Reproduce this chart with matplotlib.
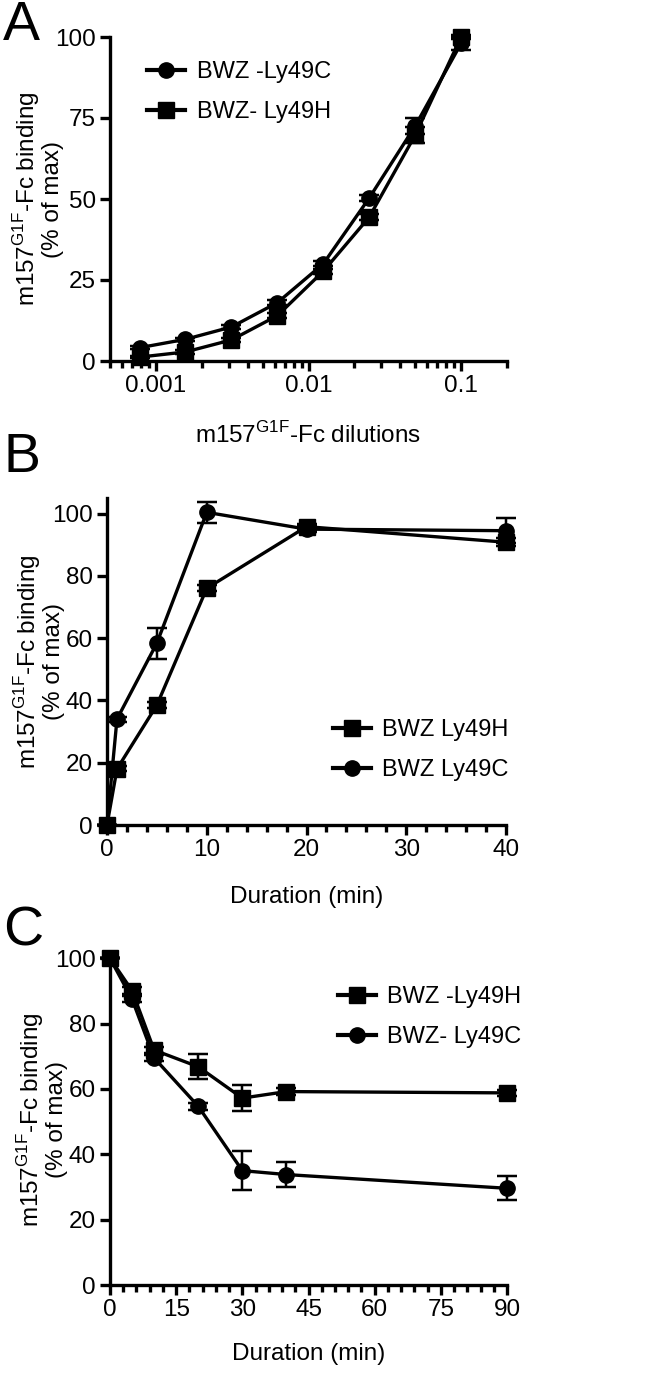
import numpy as np
import matplotlib.pyplot as plt
from matplotlib.lines import Line2D
from matplotlib.ticker import NullFormatter, MultipleLocator, LogLocator

plt.rcParams['font.family'] = ['Liberation Sans', 'DejaVu Sans']

# --- Panel A: dilution series ---
dil = [0.00078125, 0.0015625, 0.003125, 0.00625, 0.0125, 0.025, 0.05, 0.1]
a_ly49c = [4.1, 6.7, 10.5, 18.0, 30.0, 50.3, 72.5, 98.0]
a_ly49c_err = [0.5, 0.5, 0.6, 0.7, 0.8, 1.0, 2.5, 2.0]
a_ly49h = [1.2, 2.8, 6.5, 14.0, 27.7, 44.4, 69.7, 100.0]
a_ly49h_err = [0.4, 0.5, 0.6, 0.7, 0.8, 1.0, 2.5, 0.5]

# --- Panel B: association time course ---
b_time = [0, 1, 5, 10, 20, 40]
b_ly49h = [0.0, 18.0, 38.5, 76.0, 95.8, 90.8]
b_ly49h_err = [0.0, 0.8, 1.0, 1.0, 1.0, 1.2]
b_ly49c = [0.0, 34.0, 58.4, 100.4, 95.0, 94.5]
b_ly49c_err = [0.0, 0.8, 5.0, 3.4, 1.0, 4.0]

# --- Panel C: dissociation time course ---
c_time = [0, 5, 10, 20, 30, 40, 90]
c_ly49h = [100.0, 90.1, 71.9, 66.8, 57.2, 59.2, 58.8]
c_ly49h_err = [0.0, 1.0, 1.0, 3.8, 4.0, 1.0, 1.0]
c_ly49c = [100.0, 87.5, 69.5, 54.7, 35.0, 33.8, 29.6]
c_ly49c_err = [0.0, 1.0, 1.0, 1.0, 5.9, 3.9, 3.7]

W, H = 645, 1377
fig = plt.figure(figsize=(W / 100, H / 100), dpi=100)


def px_axes(left, top, right, bottom):
    return fig.add_axes([left / W, 1 - bottom / H, (right - left) / W, (bottom - top) / H])


LW = 2.4
MS = 11
TICK_FS = 17.5
LAB_FS = 17.5
LEG_FS = 17
ylab = 'm157$^{\\mathregular{G1F}}$-Fc binding\n(% of max)'


def style(ax, label_x):
    for s in ['top', 'right']:
        ax.spines[s].set_visible(False)
    for s in ['left', 'bottom']:
        ax.spines[s].set_linewidth(LW)
    ax.tick_params(which='major', length=7, width=LW, labelsize=TICK_FS, direction='out', pad=3)
    ax.tick_params(which='minor', length=5, width=LW, direction='out')
    ax.set_ylabel(ylab, fontsize=LAB_FS, linespacing=1.0)
    ax.yaxis.set_label_coords(label_x, 0.5)


def series(ax, x, y, err, marker):
    ax.errorbar(x, y, yerr=err, color='black', marker=marker, markersize=MS, lw=LW,
                elinewidth=LW - 0.6, capsize=7, capthick=LW - 0.6, clip_on=False, zorder=3)


def legend(ax, entries, **kw):
    handles = [Line2D([], [], color='black', lw=LW + 0.6, marker=m, markersize=MS) for m, _ in entries]
    ax.legend(handles, [t for _, t in entries], frameon=False, fontsize=LEG_FS,
              handlelength=1.6, handletextpad=0.5, labelspacing=0.75, **kw)


# Panel A
axA = px_axes(110, 37, 507, 361)
series(axA, dil, a_ly49c, a_ly49c_err, 'o')
series(axA, dil, a_ly49h, a_ly49h_err, 's')
axA.set_xscale('log')
axA.set_xlim(0.0005, 0.2)
axA.set_ylim(0, 100)
axA.set_xticks([0.001, 0.01, 0.1])
axA.set_xticklabels(['0.001', '0.01', '0.1'])
axA.xaxis.set_minor_locator(LogLocator(base=10, subs=np.arange(2, 10)))
axA.xaxis.set_minor_formatter(NullFormatter())
axA.set_yticks([0, 25, 50, 75, 100])
style(axA, -0.115)
axA.set_xlabel('m157$^{\\mathregular{G1F}}$-Fc dilutions', fontsize=LAB_FS, labelpad=18)
legend(axA, [('o', 'BWZ -Ly49C'), ('s', 'BWZ- Ly49H')],
       loc='upper left', bbox_to_anchor=(0.04, 0.99))

# Panel B
axB = px_axes(107, 498, 506, 825)
series(axB, b_time, b_ly49h, b_ly49h_err, 's')
series(axB, b_time, b_ly49c, b_ly49c_err, 'o')
axB.set_xlim(0, 40)
axB.set_ylim(0, 105)
axB.set_xticks([0, 10, 20, 30, 40])
axB.xaxis.set_minor_locator(MultipleLocator(2))
axB.set_yticks([0, 20, 40, 60, 80, 100])
style(axB, -0.105)
axB.set_xlabel('Duration (min)', fontsize=LAB_FS, labelpad=18)
legend(axB, [('s', 'BWZ Ly49H'), ('o', 'BWZ Ly49C')],
       loc='lower right', bbox_to_anchor=(1.06, 0.07))

# Panel C
axC = px_axes(110, 955, 507, 1285)
series(axC, c_time, c_ly49h, c_ly49h_err, 's')
series(axC, c_time, c_ly49c, c_ly49c_err, 'o')
axC.set_xlim(0, 90)
axC.set_ylim(0, 101)
axC.set_xticks([0, 15, 30, 45, 60, 75, 90])
axC.xaxis.set_minor_locator(MultipleLocator(3))
axC.set_yticks([0, 20, 40, 60, 80, 100])
style(axC, -0.105)
axC.set_xlabel('Duration (min)', fontsize=LAB_FS, labelpad=16)
legend(axC, [('s', 'BWZ -Ly49H'), ('o', 'BWZ- Ly49C')],
       loc='upper right', bbox_to_anchor=(1.09, 0.97))

# panel letters
for letter, ypix in [('A', 0), ('B', 432), ('C', 906)]:
    fig.text(3 / W, 1 - ypix / H, letter, fontsize=40, va='top', ha='left')

fig.savefig('out.png', dpi=100)
